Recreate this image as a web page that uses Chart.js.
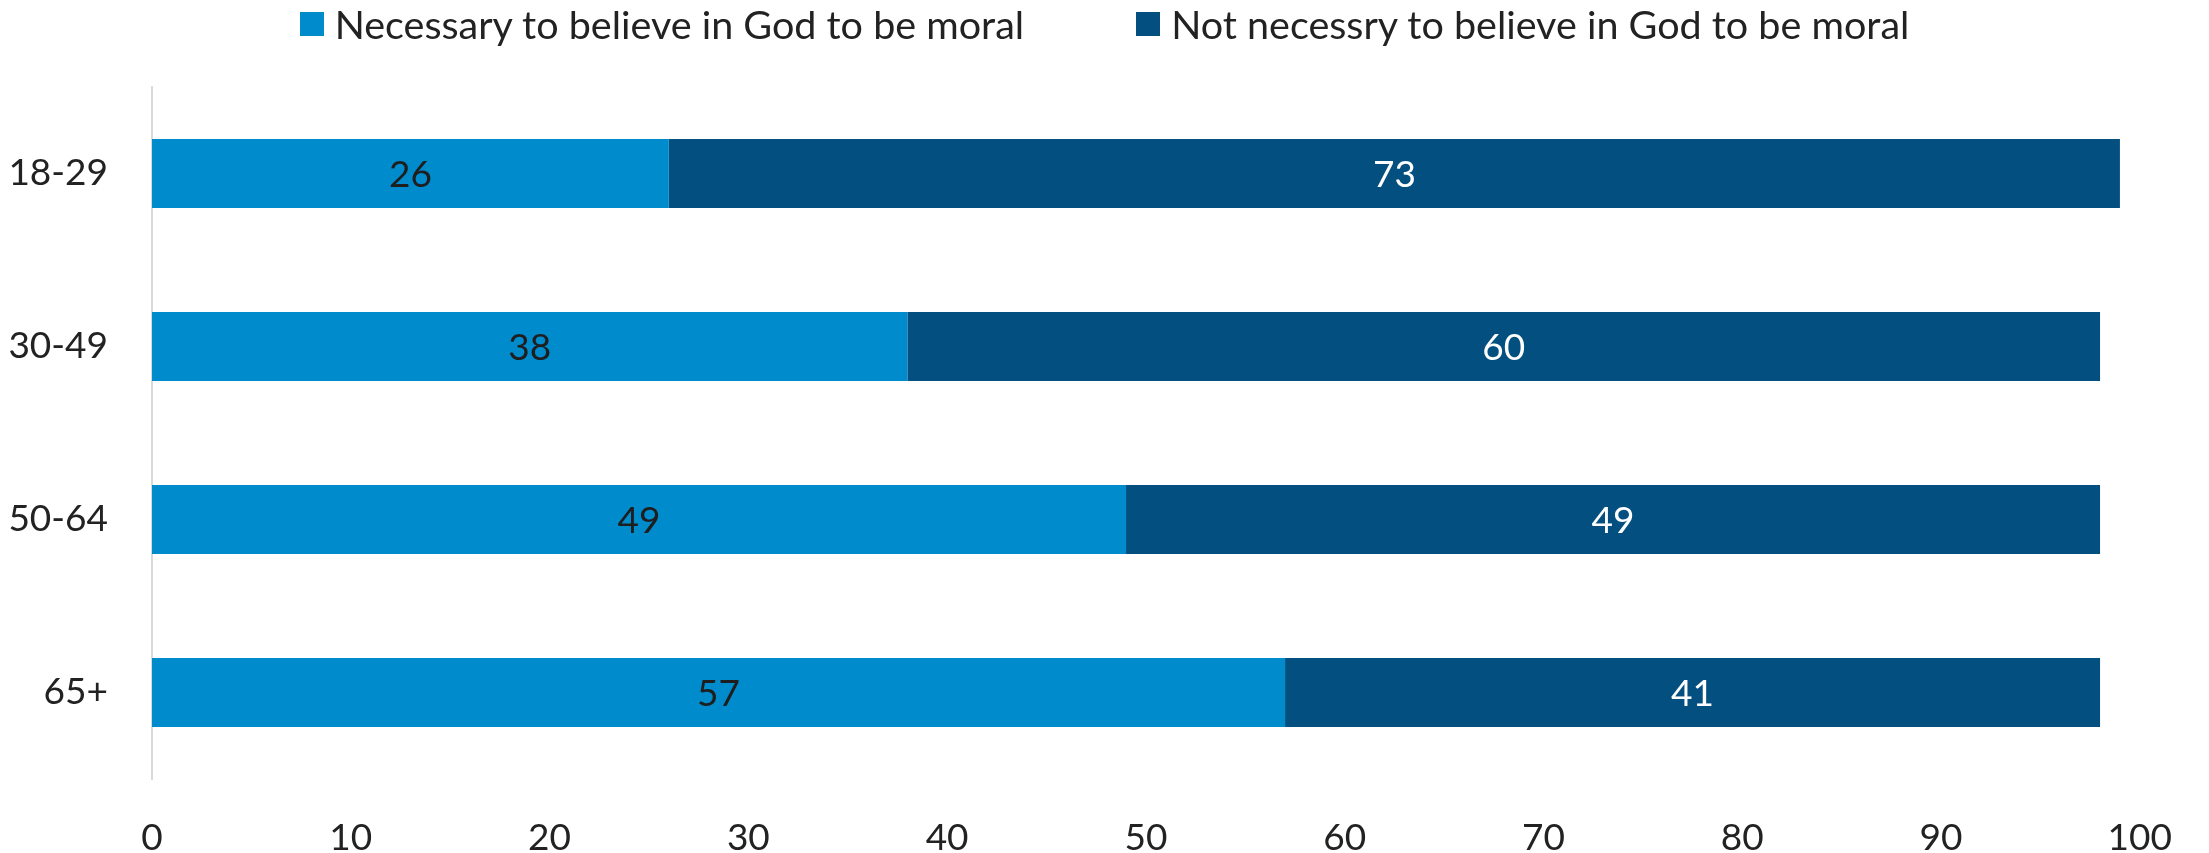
<!DOCTYPE html>
<html>
<head>
<meta charset="utf-8">
<script src="https://cdn.jsdelivr.net/npm/chart.js@4"></script>
<style>
  html, body { margin: 0; padding: 0; background: #fff; }
  #wrap { position: relative; width: 2209px; height: 853px; }
  #legend { position: absolute; left: 0; top: 0px; width: 2209px; display: flex; justify-content: center; gap: 112px;
            font-family: Lato, "Open Sans", sans-serif; font-size: 39.5px; line-height: 48px; color: #222; }
  .item { display: flex; align-items: center; }
  .box { width: 24px; height: 24px; margin-right: 11px; }
</style>
</head>
<body>
<div id="wrap">
  <canvas id="c" width="2209" height="853"></canvas>
  <div id="legend"></div>
</div>
<script>
const categories = ["18-29", "30-49", "50-64", "65+"];
const seriesNames = ["Necessary to believe in God to be moral", "Not necessry to believe in God to be moral"];
const necessary = [26, 38, 49, 57];
const notNecessary = [73, 60, 49, 41];
const xTicks = [0, 10, 20, 30, 40, 50, 60, 70, 80, 90, 100];
const colors = ["#008bcc", "#034f7f"];
const labelColors = ["#1e1e1e", "#ffffff"];

const FONT = "Lato, 'Open Sans', sans-serif";

const valueLabels = {
  id: "valueLabels",
  afterDatasetsDraw(chart) {
    const ctx = chart.ctx;
    ctx.save();
    ctx.font = "37px " + FONT;
    ctx.textAlign = "center";
    ctx.textBaseline = "middle";
    chart.data.datasets.forEach((ds, di) => {
      const meta = chart.getDatasetMeta(di);
      meta.data.forEach((bar, i) => {
        const p = bar.getProps(["x", "y", "base"], true);
        const cx = (p.x + p.base) / 2;
        ctx.fillStyle = labelColors[di];
        ctx.fillText(String(ds.data[i]), cx, p.y + 2);
      });
    });
    ctx.restore();
  }
};

const chart = new Chart(document.getElementById("c"), {
  type: "bar",
  data: {
    labels: categories,
    datasets: [
      { label: seriesNames[0], data: necessary, backgroundColor: colors[0] },
      { label: seriesNames[1], data: notNecessary, backgroundColor: colors[1] }
    ]
  },
  options: {
    indexAxis: "y",
    responsive: false,
    animation: false,
    devicePixelRatio: 1,
    datasets: { bar: { categoryPercentage: 1, barPercentage: 0.4 } },
    layout: { padding: { top: 87, right: 65, bottom: 0, left: 0 } },
    plugins: { legend: { display: false }, tooltip: { enabled: false } },
    scales: {
      x: {
        stacked: true, min: 0, max: 100,
        afterBuildTicks: s => { s.ticks = xTicks.map(v => ({ value: v })); },
        afterFit: s => { s.height = 74; },
        grid: { display: false, drawTicks: false },
        border: { display: false },
        ticks: { padding: 37, color: "#222", font: { family: FONT, size: 37 } }
      },
      y: {
        stacked: true,
        afterFit: s => { s.width = 152; },
        grid: { display: false, drawTicks: false },
        border: { display: true, color: "#d9d9d9", width: 2 },
        ticks: { padding: 44, color: "#222", font: { family: FONT, size: 37 } }
      }
    }
  },
  plugins: [valueLabels]
});

const legend = document.getElementById("legend");
chart.data.datasets.forEach(ds => {
  const item = document.createElement("div");
  item.className = "item";
  const box = document.createElement("span");
  box.className = "box";
  box.style.background = ds.backgroundColor;
  const txt = document.createElement("span");
  txt.textContent = ds.label;
  item.appendChild(box);
  item.appendChild(txt);
  legend.appendChild(item);
});
</script>
</body>
</html>
